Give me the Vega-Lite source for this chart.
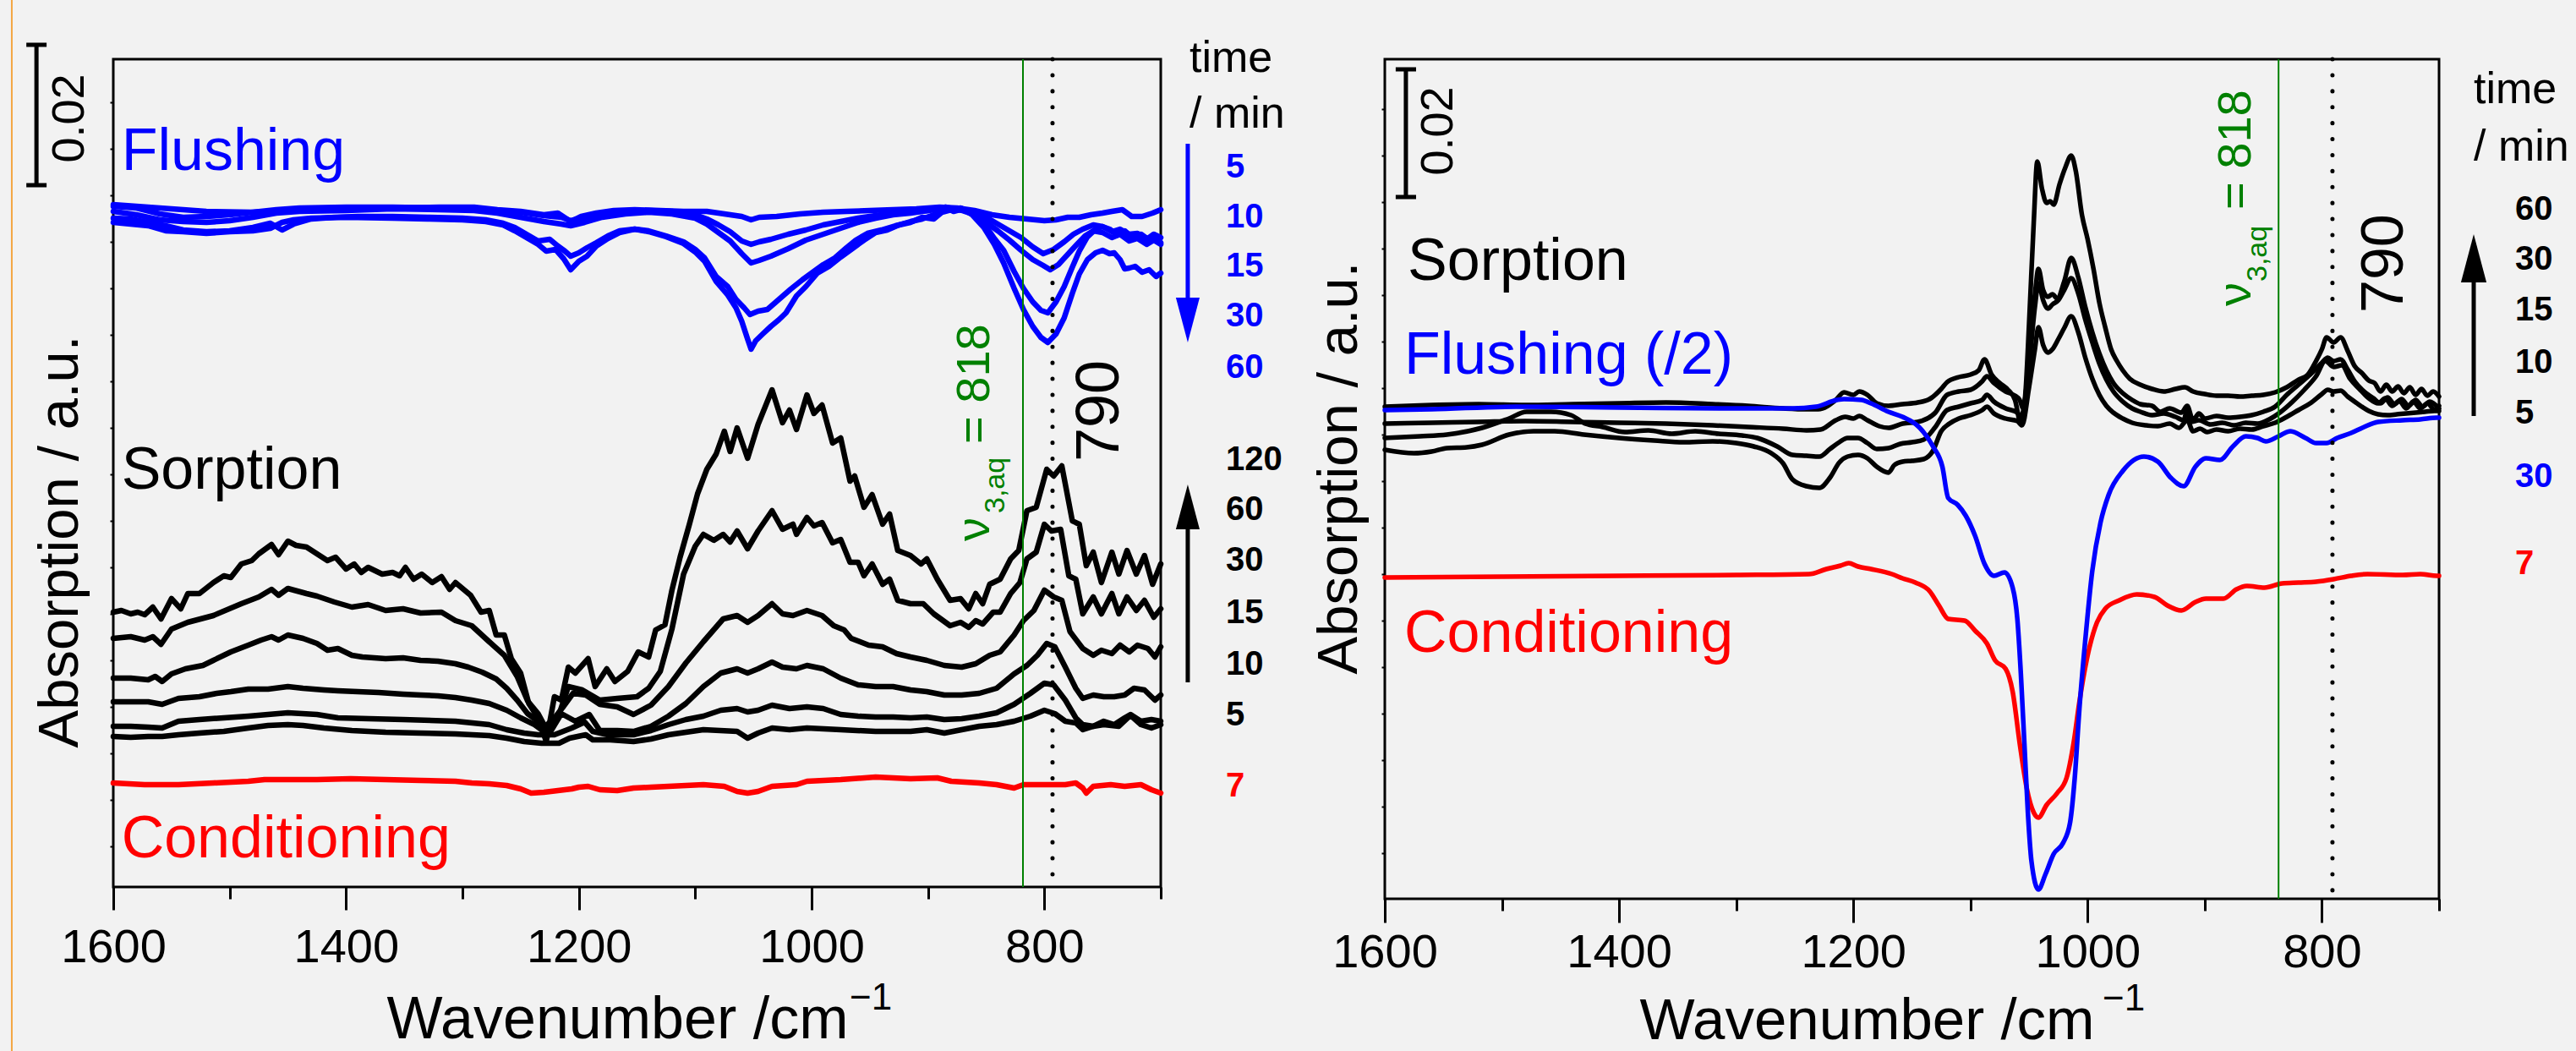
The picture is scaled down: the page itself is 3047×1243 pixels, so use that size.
{
"$schema": "https://vega.github.io/schema/vega-lite/v6.json",
"autosize": {"type": "none"},
"padding": {"left": 134, "top": 70, "right": 2913, "bottom": 1173},
"background": "#f2f2f2",
"spacing": 265,
"bounds": "flush",
"config": {
  "view": {"stroke": "#000000", "strokeWidth": 3},
  "axis": {"grid": false, "domain": false, "labelFont": "Liberation Sans", "titleFont": "Liberation Sans", "labelColor": "#000000", "titleColor": "#000000", "tickColor": "#000000", "titleFontWeight": "normal"},
  "text": {"font": "Liberation Sans"}
},
"datasets": {
"Lc": [
{"s":"a","x":1600,"y":32.5},{"s":"a","x":1593,"y":32.7},{"s":"a","x":1585,"y":32.3},{"s":"a","x":1579,"y":32.5},{"s":"a","x":1573,"y":32.2},{"s":"a","x":1566,"y":33.1},{"s":"a","x":1559,"y":31.7},{"s":"a","x":1550,"y":34.1},{"s":"a","x":1542,"y":32.9},{"s":"a","x":1536,"y":34.7},{"s":"a","x":1526,"y":34.7},{"s":"a","x":1514,"y":36.0},{"s":"a","x":1505,"y":36.8},{"s":"a","x":1499,"y":36.6},{"s":"a","x":1490,"y":38.2},{"s":"a","x":1481,"y":38.6},{"s":"a","x":1475,"y":39.4},{"s":"a","x":1464,"y":40.5},{"s":"a","x":1458,"y":39.3},{"s":"a","x":1450,"y":40.9},{"s":"a","x":1443,"y":40.4},{"s":"a","x":1434,"y":40.2},{"s":"a","x":1425,"y":39.4},{"s":"a","x":1416,"y":38.6},{"s":"a","x":1409,"y":39.0},{"s":"a","x":1400,"y":37.6},{"s":"a","x":1393,"y":38.2},{"s":"a","x":1387,"y":37.2},{"s":"a","x":1381,"y":37.8},{"s":"a","x":1369,"y":37.0},{"s":"a","x":1360,"y":37.2},{"s":"a","x":1354,"y":36.8},{"s":"a","x":1349,"y":37.8},{"s":"a","x":1342,"y":36.4},{"s":"a","x":1335,"y":37.0},{"s":"a","x":1326,"y":36.0},{"s":"a","x":1318,"y":36.7},{"s":"a","x":1311,"y":35.2},{"s":"a","x":1306,"y":36.0},{"s":"a","x":1293,"y":34.5},{"s":"a","x":1284,"y":32.5},{"s":"a","x":1277,"y":32.7},{"s":"a","x":1271,"y":29.8},{"s":"a","x":1264,"y":29.8},{"s":"a","x":1258,"y":27.0},{"s":"a","x":1250,"y":25.3},{"s":"a","x":1243,"y":21.7},{"s":"a","x":1235,"y":20.0},{"s":"a","x":1228,"y":17.2},{"s":"a","x":1221,"y":22.5},{"s":"a","x":1215,"y":22.1},{"s":"a","x":1209,"y":26.0},{"s":"a","x":1203,"y":25.3},{"s":"a","x":1192,"y":27.0},{"s":"a","x":1186,"y":23.7},{"s":"a","x":1176,"y":25.8},{"s":"a","x":1169,"y":24.3},{"s":"a","x":1158,"y":25.5},{"s":"a","x":1149,"y":27.8},{"s":"a","x":1140,"y":27.2},{"s":"a","x":1134,"y":30.4},{"s":"a","x":1126,"y":31.0},{"s":"a","x":1120,"y":35.1},{"s":"a","x":1113,"y":39.0},{"s":"a","x":1105,"y":42.9},{"s":"a","x":1098,"y":46.5},{"s":"a","x":1090,"y":49.4},{"s":"a","x":1082,"y":51.2},{"s":"a","x":1075,"y":53.9},{"s":"a","x":1070,"y":51.5},{"s":"a","x":1064,"y":54.3},{"s":"a","x":1055,"y":50.7},{"s":"a","x":1046,"y":54.7},{"s":"a","x":1034,"y":58.8},{"s":"a","x":1025,"y":54.9},{"s":"a","x":1019,"y":56.4},{"s":"a","x":1013,"y":54.1},{"s":"a","x":1004,"y":58.2},{"s":"a","x":998,"y":56.0},{"s":"a","x":991,"y":57.0},{"s":"a","x":982,"y":52.5},{"s":"a","x":975,"y":53.1},{"s":"a","x":967,"y":48.0},{"s":"a","x":963,"y":48.6},{"s":"a","x":955,"y":44.9},{"s":"a","x":948,"y":46.4},{"s":"a","x":939,"y":42.9},{"s":"a","x":933,"y":44.1},{"s":"a","x":926,"y":39.8},{"s":"a","x":915,"y":39.2},{"s":"a","x":906,"y":38.2},{"s":"a","x":901,"y":38.8},{"s":"a","x":892,"y":36.4},{"s":"a","x":881,"y":33.9},{"s":"a","x":872,"y":34.1},{"s":"a","x":865,"y":32.9},{"s":"a","x":859,"y":34.7},{"s":"a","x":853,"y":33.5},{"s":"a","x":847,"y":35.8},{"s":"a","x":838,"y":36.4},{"s":"a","x":829,"y":38.8},{"s":"a","x":822,"y":39.8},{"s":"a","x":815,"y":44.5},{"s":"a","x":807,"y":44.9},{"s":"a","x":798,"y":49.4},{"s":"a","x":792,"y":48.6},{"s":"a","x":785,"y":49.8},{"s":"a","x":776,"y":43.3},{"s":"a","x":770,"y":42.9},{"s":"a","x":764,"y":38.0},{"s":"a","x":758,"y":39.6},{"s":"a","x":751,"y":36.0},{"s":"a","x":742,"y":39.6},{"s":"a","x":736,"y":37.0},{"s":"a","x":729,"y":39.8},{"s":"a","x":721,"y":37.0},{"s":"a","x":714,"y":39.2},{"s":"a","x":707,"y":35.8},{"s":"a","x":700,"y":38.2},
{"s":"b","x":1600,"y":29.4},{"s":"b","x":1585,"y":29.6},{"s":"b","x":1573,"y":29.2},{"s":"b","x":1566,"y":29.6},{"s":"b","x":1559,"y":28.7},{"s":"b","x":1550,"y":30.5},{"s":"b","x":1536,"y":31.3},{"s":"b","x":1514,"y":32.1},{"s":"b","x":1490,"y":33.5},{"s":"b","x":1475,"y":34.3},{"s":"b","x":1464,"y":35.2},{"s":"b","x":1458,"y":34.5},{"s":"b","x":1450,"y":35.3},{"s":"b","x":1434,"y":34.7},{"s":"b","x":1425,"y":34.4},{"s":"b","x":1410,"y":33.7},{"s":"b","x":1395,"y":33.1},{"s":"b","x":1381,"y":33.4},{"s":"b","x":1366,"y":32.7},{"s":"b","x":1351,"y":32.9},{"s":"b","x":1336,"y":32.4},{"s":"b","x":1318,"y":32.5},{"s":"b","x":1306,"y":31.5},{"s":"b","x":1292,"y":30.9},{"s":"b","x":1277,"y":29.0},{"s":"b","x":1264,"y":27.4},{"s":"b","x":1253,"y":24.9},{"s":"b","x":1244,"y":22.0},{"s":"b","x":1235,"y":20.5},{"s":"b","x":1226,"y":18.2},{"s":"b","x":1218,"y":20.0},{"s":"b","x":1209,"y":23.7},{"s":"b","x":1197,"y":23.3},{"s":"b","x":1182,"y":22.1},{"s":"b","x":1167,"y":22.3},{"s":"b","x":1150,"y":22.5},{"s":"b","x":1140,"y":23.5},{"s":"b","x":1130,"y":25.5},{"s":"b","x":1120,"y":30.5},{"s":"b","x":1110,"y":37.0},{"s":"b","x":1100,"y":40.3},{"s":"b","x":1093,"y":41.7},{"s":"b","x":1084,"y":41.0},{"s":"b","x":1076,"y":41.7},{"s":"b","x":1070,"y":40.8},{"s":"b","x":1064,"y":42.1},{"s":"b","x":1055,"y":40.0},{"s":"b","x":1046,"y":42.1},{"s":"b","x":1034,"y":44.5},{"s":"b","x":1025,"y":42.3},{"s":"b","x":1016,"y":42.9},{"s":"b","x":1013,"y":41.7},{"s":"b","x":1004,"y":43.7},{"s":"b","x":998,"y":42.7},{"s":"b","x":991,"y":43.1},{"s":"b","x":982,"y":40.7},{"s":"b","x":975,"y":41.1},{"s":"b","x":967,"y":38.4},{"s":"b","x":960,"y":38.4},{"s":"b","x":955,"y":36.8},{"s":"b","x":948,"y":38.2},{"s":"b","x":939,"y":35.8},{"s":"b","x":933,"y":36.4},{"s":"b","x":926,"y":33.9},{"s":"b","x":915,"y":33.5},{"s":"b","x":904,"y":33.5},{"s":"b","x":895,"y":32.3},{"s":"b","x":881,"y":30.9},{"s":"b","x":872,"y":31.3},{"s":"b","x":865,"y":30.7},{"s":"b","x":859,"y":31.5},{"s":"b","x":853,"y":31.1},{"s":"b","x":844,"y":32.5},{"s":"b","x":838,"y":32.5},{"s":"b","x":829,"y":34.7},{"s":"b","x":821,"y":36.0},{"s":"b","x":815,"y":38.8},{"s":"b","x":807,"y":39.6},{"s":"b","x":800,"y":42.9},{"s":"b","x":794,"y":42.1},{"s":"b","x":786,"y":42.3},{"s":"b","x":779,"y":36.8},{"s":"b","x":773,"y":36.4},{"s":"b","x":767,"y":32.3},{"s":"b","x":758,"y":34.3},{"s":"b","x":751,"y":32.3},{"s":"b","x":742,"y":34.7},{"s":"b","x":736,"y":32.3},{"s":"b","x":729,"y":34.3},{"s":"b","x":721,"y":32.7},{"s":"b","x":714,"y":33.9},{"s":"b","x":706,"y":31.9},{"s":"b","x":700,"y":32.9},
{"s":"c","x":1600,"y":24.7},{"s":"c","x":1585,"y":24.7},{"s":"c","x":1570,"y":24.5},{"s":"c","x":1564,"y":24.9},{"s":"c","x":1558,"y":24.3},{"s":"c","x":1550,"y":25.2},{"s":"c","x":1538,"y":25.8},{"s":"c","x":1523,"y":26.2},{"s":"c","x":1514,"y":26.8},{"s":"c","x":1499,"y":27.8},{"s":"c","x":1484,"y":28.6},{"s":"c","x":1473,"y":29.2},{"s":"c","x":1464,"y":29.6},{"s":"c","x":1458,"y":29.2},{"s":"c","x":1450,"y":29.8},{"s":"c","x":1437,"y":29.4},{"s":"c","x":1425,"y":28.8},{"s":"c","x":1416,"y":28.0},{"s":"c","x":1407,"y":28.2},{"s":"c","x":1395,"y":27.4},{"s":"c","x":1386,"y":27.2},{"s":"c","x":1366,"y":27.0},{"s":"c","x":1351,"y":27.1},{"s":"c","x":1336,"y":26.8},{"s":"c","x":1321,"y":26.7},{"s":"c","x":1306,"y":26.4},{"s":"c","x":1295,"y":26.0},{"s":"c","x":1283,"y":25.4},{"s":"c","x":1271,"y":24.6},{"s":"c","x":1262,"y":23.5},{"s":"c","x":1253,"y":22.1},{"s":"c","x":1244,"y":20.5},{"s":"c","x":1235,"y":19.6},{"s":"c","x":1229,"y":19.0},{"s":"c","x":1222,"y":19.8},{"s":"c","x":1214,"y":21.2},{"s":"c","x":1205,"y":22.9},{"s":"c","x":1194,"y":22.7},{"s":"c","x":1182,"y":21.6},{"s":"c","x":1167,"y":21.3},{"s":"c","x":1153,"y":20.4},{"s":"c","x":1138,"y":21.5},{"s":"c","x":1123,"y":23.7},{"s":"c","x":1108,"y":26.5},{"s":"c","x":1093,"y":29.0},{"s":"c","x":1076,"y":31.7},{"s":"c","x":1064,"y":32.1},{"s":"c","x":1055,"y":31.3},{"s":"c","x":1046,"y":32.1},{"s":"c","x":1034,"y":33.5},{"s":"c","x":1025,"y":32.3},{"s":"c","x":1016,"y":32.1},{"s":"c","x":1004,"y":32.7},{"s":"c","x":991,"y":32.1},{"s":"c","x":981,"y":30.9},{"s":"c","x":972,"y":30.4},{"s":"c","x":966,"y":29.4},{"s":"c","x":951,"y":28.6},{"s":"c","x":939,"y":28.4},{"s":"c","x":927,"y":27.6},{"s":"c","x":915,"y":27.2},{"s":"c","x":901,"y":26.8},{"s":"c","x":886,"y":26.2},{"s":"c","x":871,"y":26.0},{"s":"c","x":859,"y":26.4},{"s":"c","x":847,"y":27.4},{"s":"c","x":838,"y":27.8},{"s":"c","x":826,"y":29.8},{"s":"c","x":818,"y":31.5},{"s":"c","x":809,"y":32.7},{"s":"c","x":800,"y":35.1},{"s":"c","x":792,"y":34.3},{"s":"c","x":785,"y":33.9},{"s":"c","x":778,"y":30.2},{"s":"c","x":767,"y":28.2},{"s":"c","x":758,"y":27.4},{"s":"c","x":751,"y":28.0},{"s":"c","x":742,"y":27.6},{"s":"c","x":735,"y":28.6},{"s":"c","x":727,"y":27.8},{"s":"c","x":720,"y":28.6},{"s":"c","x":711,"y":28.2},{"s":"c","x":705,"y":27.2},{"s":"c","x":700,"y":28.4},
{"s":"d","x":1600,"y":21.9},{"s":"d","x":1585,"y":21.9},{"s":"d","x":1570,"y":21.9},{"s":"d","x":1558,"y":21.6},{"s":"d","x":1544,"y":22.3},{"s":"d","x":1526,"y":22.5},{"s":"d","x":1511,"y":22.9},{"s":"d","x":1499,"y":23.1},{"s":"d","x":1484,"y":23.4},{"s":"d","x":1467,"y":23.4},{"s":"d","x":1450,"y":23.7},{"s":"d","x":1437,"y":23.5},{"s":"d","x":1419,"y":23.3},{"s":"d","x":1407,"y":23.2},{"s":"d","x":1390,"y":23.1},{"s":"d","x":1372,"y":23.0},{"s":"d","x":1351,"y":22.8},{"s":"d","x":1336,"y":22.7},{"s":"d","x":1321,"y":22.6},{"s":"d","x":1306,"y":22.4},{"s":"d","x":1292,"y":22.1},{"s":"d","x":1277,"y":21.7},{"s":"d","x":1262,"y":20.9},{"s":"d","x":1250,"y":20.0},{"s":"d","x":1238,"y":19.2},{"s":"d","x":1226,"y":18.0},{"s":"d","x":1215,"y":20.5},{"s":"d","x":1203,"y":19.6},{"s":"d","x":1191,"y":20.4},{"s":"d","x":1182,"y":18.5},{"s":"d","x":1167,"y":18.5},{"s":"d","x":1153,"y":18.4},{"s":"d","x":1138,"y":19.0},{"s":"d","x":1123,"y":20.2},{"s":"d","x":1108,"y":21.7},{"s":"d","x":1093,"y":23.7},{"s":"d","x":1078,"y":25.3},{"s":"d","x":1064,"y":25.8},{"s":"d","x":1055,"y":25.3},{"s":"d","x":1046,"y":25.8},{"s":"d","x":1034,"y":26.6},{"s":"d","x":1025,"y":26.0},{"s":"d","x":1013,"y":25.8},{"s":"d","x":1004,"y":26.2},{"s":"d","x":990,"y":25.8},{"s":"d","x":975,"y":24.7},{"s":"d","x":960,"y":23.9},{"s":"d","x":945,"y":23.7},{"s":"d","x":930,"y":23.7},{"s":"d","x":915,"y":23.3},{"s":"d","x":901,"y":23.1},{"s":"d","x":886,"y":22.7},{"s":"d","x":871,"y":22.7},{"s":"d","x":856,"y":22.9},{"s":"d","x":841,"y":23.5},{"s":"d","x":826,"y":25.2},{"s":"d","x":815,"y":26.2},{"s":"d","x":806,"y":27.4},{"s":"d","x":798,"y":28.8},{"s":"d","x":791,"y":28.4},{"s":"d","x":782,"y":26.0},{"s":"d","x":773,"y":23.5},{"s":"d","x":767,"y":22.3},{"s":"d","x":758,"y":22.7},{"s":"d","x":749,"y":22.5},{"s":"d","x":740,"y":22.5},{"s":"d","x":731,"y":22.7},{"s":"d","x":723,"y":23.5},{"s":"d","x":714,"y":23.3},{"s":"d","x":705,"y":22.1},{"s":"d","x":700,"y":22.7},
{"s":"e","x":1600,"y":19.0},{"s":"e","x":1585,"y":19.0},{"s":"e","x":1570,"y":18.9},{"s":"e","x":1558,"y":18.8},{"s":"e","x":1544,"y":19.6},{"s":"e","x":1526,"y":19.8},{"s":"e","x":1505,"y":20.0},{"s":"e","x":1484,"y":20.2},{"s":"e","x":1467,"y":20.4},{"s":"e","x":1450,"y":20.6},{"s":"e","x":1425,"y":20.4},{"s":"e","x":1407,"y":20.0},{"s":"e","x":1380,"y":19.9},{"s":"e","x":1351,"y":19.8},{"s":"e","x":1306,"y":19.6},{"s":"e","x":1277,"y":19.2},{"s":"e","x":1262,"y":18.6},{"s":"e","x":1247,"y":18.2},{"s":"e","x":1235,"y":18.0},{"s":"e","x":1221,"y":18.0},{"s":"e","x":1206,"y":18.8},{"s":"e","x":1195,"y":19.5},{"s":"e","x":1188,"y":18.4},{"s":"e","x":1175,"y":18.0},{"s":"e","x":1153,"y":18.0},{"s":"e","x":1138,"y":18.5},{"s":"e","x":1123,"y":19.2},{"s":"e","x":1108,"y":19.8},{"s":"e","x":1093,"y":20.2},{"s":"e","x":1078,"y":20.9},{"s":"e","x":1064,"y":21.1},{"s":"e","x":1055,"y":20.7},{"s":"e","x":1046,"y":20.9},{"s":"e","x":1034,"y":21.5},{"s":"e","x":1019,"y":21.1},{"s":"e","x":1004,"y":21.3},{"s":"e","x":990,"y":21.1},{"s":"e","x":975,"y":20.4},{"s":"e","x":960,"y":20.2},{"s":"e","x":945,"y":20.1},{"s":"e","x":930,"y":20.1},{"s":"e","x":915,"y":20.0},{"s":"e","x":901,"y":20.1},{"s":"e","x":886,"y":19.8},{"s":"e","x":871,"y":19.9},{"s":"e","x":856,"y":20.2},{"s":"e","x":841,"y":20.6},{"s":"e","x":826,"y":21.6},{"s":"e","x":812,"y":22.9},{"s":"e","x":800,"y":24.1},{"s":"e","x":792,"y":23.9},{"s":"e","x":782,"y":22.1},{"s":"e","x":773,"y":20.0},{"s":"e","x":767,"y":19.2},{"s":"e","x":758,"y":19.0},{"s":"e","x":749,"y":19.6},{"s":"e","x":740,"y":19.2},{"s":"e","x":731,"y":20.0},{"s":"e","x":726,"y":20.4},{"s":"e","x":717,"y":19.6},{"s":"e","x":708,"y":19.8},{"s":"e","x":700,"y":19.6},
{"s":"f","x":1600,"y":17.8},{"s":"f","x":1585,"y":17.7},{"s":"f","x":1570,"y":17.8},{"s":"f","x":1558,"y":17.8},{"s":"f","x":1544,"y":18.0},{"s":"f","x":1526,"y":18.2},{"s":"f","x":1505,"y":18.4},{"s":"f","x":1484,"y":18.8},{"s":"f","x":1467,"y":19.1},{"s":"f","x":1450,"y":19.2},{"s":"f","x":1437,"y":19.1},{"s":"f","x":1419,"y":18.8},{"s":"f","x":1395,"y":18.5},{"s":"f","x":1366,"y":18.3},{"s":"f","x":1336,"y":18.2},{"s":"f","x":1306,"y":18.1},{"s":"f","x":1277,"y":17.9},{"s":"f","x":1262,"y":17.6},{"s":"f","x":1247,"y":17.2},{"s":"f","x":1232,"y":17.0},{"s":"f","x":1217,"y":17.0},{"s":"f","x":1208,"y":17.6},{"s":"f","x":1194,"y":18.0},{"s":"f","x":1188,"y":17.4},{"s":"f","x":1173,"y":17.4},{"s":"f","x":1153,"y":17.2},{"s":"f","x":1138,"y":17.5},{"s":"f","x":1123,"y":18.0},{"s":"f","x":1093,"y":18.6},{"s":"f","x":1064,"y":18.4},{"s":"f","x":1055,"y":17.6},{"s":"f","x":1046,"y":18.2},{"s":"f","x":1034,"y":18.8},{"s":"f","x":1019,"y":18.6},{"s":"f","x":1004,"y":18.8},{"s":"f","x":975,"y":18.6},{"s":"f","x":945,"y":18.4},{"s":"f","x":915,"y":18.4},{"s":"f","x":901,"y":18.6},{"s":"f","x":886,"y":18.2},{"s":"f","x":871,"y":18.6},{"s":"f","x":856,"y":19.0},{"s":"f","x":841,"y":19.2},{"s":"f","x":826,"y":19.6},{"s":"f","x":812,"y":20.2},{"s":"f","x":800,"y":20.9},{"s":"f","x":791,"y":20.5},{"s":"f","x":782,"y":19.6},{"s":"f","x":773,"y":19.4},{"s":"f","x":767,"y":18.6},{"s":"f","x":758,"y":19.0},{"s":"f","x":749,"y":19.2},{"s":"f","x":736,"y":19.0},{"s":"f","x":726,"y":20.3},{"s":"f","x":717,"y":19.2},{"s":"f","x":708,"y":18.8},{"s":"f","x":700,"y":19.2},
{"s":"l","x":1600,"y":12.3},{"s":"l","x":1573,"y":12.1},{"s":"l","x":1544,"y":12.1},{"s":"l","x":1514,"y":12.3},{"s":"l","x":1484,"y":12.5},{"s":"l","x":1470,"y":12.7},{"s":"l","x":1425,"y":12.7},{"s":"l","x":1396,"y":12.8},{"s":"l","x":1366,"y":12.7},{"s":"l","x":1336,"y":12.6},{"s":"l","x":1306,"y":12.5},{"s":"l","x":1292,"y":12.3},{"s":"l","x":1277,"y":12.2},{"s":"l","x":1262,"y":12.0},{"s":"l","x":1250,"y":11.6},{"s":"l","x":1241,"y":11.1},{"s":"l","x":1230,"y":11.2},{"s":"l","x":1218,"y":11.4},{"s":"l","x":1206,"y":11.6},{"s":"l","x":1200,"y":11.8},{"s":"l","x":1192,"y":11.9},{"s":"l","x":1182,"y":11.5},{"s":"l","x":1167,"y":11.4},{"s":"l","x":1153,"y":11.7},{"s":"l","x":1138,"y":11.8},{"s":"l","x":1123,"y":11.9},{"s":"l","x":1093,"y":12.1},{"s":"l","x":1075,"y":11.9},{"s":"l","x":1064,"y":11.3},{"s":"l","x":1055,"y":11.1},{"s":"l","x":1046,"y":11.3},{"s":"l","x":1034,"y":11.9},{"s":"l","x":1013,"y":12.1},{"s":"l","x":1004,"y":12.5},{"s":"l","x":975,"y":12.7},{"s":"l","x":945,"y":13.0},{"s":"l","x":915,"y":12.8},{"s":"l","x":892,"y":12.9},{"s":"l","x":880,"y":12.5},{"s":"l","x":856,"y":12.3},{"s":"l","x":841,"y":12.1},{"s":"l","x":826,"y":11.7},{"s":"l","x":818,"y":12.1},{"s":"l","x":797,"y":12.1},{"s":"l","x":782,"y":12.1},{"s":"l","x":773,"y":12.3},{"s":"l","x":767,"y":11.7},{"s":"l","x":764,"y":11.1},{"s":"l","x":758,"y":11.9},{"s":"l","x":743,"y":12.1},{"s":"l","x":731,"y":11.9},{"s":"l","x":717,"y":12.1},{"s":"l","x":708,"y":11.5},{"s":"l","x":700,"y":11.1},
{"s":"g","x":1600,"y":80.7},{"s":"g","x":1560,"y":80.3},{"s":"g","x":1520,"y":79.9},{"s":"g","x":1480,"y":79.8},{"s":"g","x":1440,"y":80.1},{"s":"g","x":1400,"y":80.2},{"s":"g","x":1360,"y":80.3},{"s":"g","x":1320,"y":80.4},{"s":"g","x":1290,"y":80.4},{"s":"g","x":1270,"y":80.1},{"s":"g","x":1250,"y":79.9},{"s":"g","x":1230,"y":79.5},{"s":"g","x":1218,"y":79.7},{"s":"g","x":1207,"y":78.7},{"s":"g","x":1198,"y":79.3},{"s":"g","x":1185,"y":79.7},{"s":"g","x":1170,"y":80.0},{"s":"g","x":1152,"y":80.1},{"s":"g","x":1130,"y":80.0},{"s":"g","x":1110,"y":79.9},{"s":"g","x":1090,"y":79.9},{"s":"g","x":1070,"y":79.5},{"s":"g","x":1060,"y":79.3},{"s":"g","x":1052,"y":78.9},{"s":"g","x":1045,"y":79.2},{"s":"g","x":1030,"y":79.3},{"s":"g","x":1010,"y":79.6},{"s":"g","x":990,"y":79.8},{"s":"g","x":970,"y":79.9},{"s":"g","x":950,"y":80.0},{"s":"g","x":930,"y":80.1},{"s":"g","x":910,"y":80.2},{"s":"g","x":890,"y":80.4},{"s":"g","x":875,"y":80.3},{"s":"g","x":860,"y":80.0},{"s":"g","x":845,"y":79.5},{"s":"g","x":830,"y":79.2},{"s":"g","x":815,"y":79.0},{"s":"g","x":800,"y":78.8},{"s":"g","x":790,"y":78.9},{"s":"g","x":780,"y":79.2},{"s":"g","x":770,"y":79.2},{"s":"g","x":760,"y":79.5},{"s":"g","x":750,"y":79.7},{"s":"g","x":742,"y":79.9},{"s":"g","x":733,"y":80.1},{"s":"g","x":725,"y":79.3},{"s":"g","x":716,"y":79.3},{"s":"g","x":707,"y":79.7},{"s":"g","x":700,"y":80.1},
{"s":"h","x":1600,"y":80.5},{"s":"h","x":1580,"y":80.3},{"s":"h","x":1560,"y":79.6},{"s":"h","x":1540,"y":79.2},{"s":"h","x":1520,"y":79.3},{"s":"h","x":1500,"y":79.5},{"s":"h","x":1480,"y":79.8},{"s":"h","x":1460,"y":80.1},{"s":"h","x":1440,"y":80.3},{"s":"h","x":1400,"y":80.4},{"s":"h","x":1360,"y":80.4},{"s":"h","x":1320,"y":80.3},{"s":"h","x":1290,"y":80.2},{"s":"h","x":1270,"y":80.0},{"s":"h","x":1250,"y":79.8},{"s":"h","x":1230,"y":79.4},{"s":"h","x":1215,"y":79.2},{"s":"h","x":1207,"y":78.8},{"s":"h","x":1195,"y":79.2},{"s":"h","x":1180,"y":79.6},{"s":"h","x":1160,"y":79.9},{"s":"h","x":1140,"y":80.0},{"s":"h","x":1120,"y":79.9},{"s":"h","x":1100,"y":79.5},{"s":"h","x":1090,"y":79.0},{"s":"h","x":1080,"y":78.3},{"s":"h","x":1070,"y":77.5},{"s":"h","x":1060,"y":76.4},{"s":"h","x":1052,"y":76.0},{"s":"h","x":1045,"y":76.3},{"s":"h","x":1035,"y":76.6},{"s":"h","x":1020,"y":77.2},{"s":"h","x":1005,"y":77.7},{"s":"h","x":990,"y":78.3},{"s":"h","x":975,"y":78.7},{"s":"h","x":960,"y":79.1},{"s":"h","x":945,"y":79.4},{"s":"h","x":930,"y":79.7},{"s":"h","x":915,"y":79.8},{"s":"h","x":900,"y":80.0},{"s":"h","x":885,"y":80.4},{"s":"h","x":875,"y":80.1},{"s":"h","x":862,"y":79.9},{"s":"h","x":850,"y":79.2},{"s":"h","x":840,"y":78.4},{"s":"h","x":830,"y":77.6},{"s":"h","x":820,"y":76.8},{"s":"h","x":810,"y":75.7},{"s":"h","x":801,"y":74.9},{"s":"h","x":792,"y":75.4},{"s":"h","x":783,"y":76.3},{"s":"h","x":775,"y":77.2},{"s":"h","x":767,"y":77.8},{"s":"h","x":758,"y":78.3},{"s":"h","x":750,"y":78.1},{"s":"h","x":742,"y":77.5},{"s":"h","x":735,"y":77.8},{"s":"h","x":727,"y":77.2},{"s":"h","x":720,"y":77.3},{"s":"h","x":712,"y":76.6},{"s":"h","x":706,"y":77.2},{"s":"h","x":700,"y":76.8},
{"s":"i","x":1600,"y":79.9},{"s":"i","x":1580,"y":79.5},{"s":"i","x":1560,"y":78.9},{"s":"i","x":1540,"y":78.7},{"s":"i","x":1520,"y":78.6},{"s":"i","x":1500,"y":78.8},{"s":"i","x":1480,"y":79.2},{"s":"i","x":1460,"y":79.7},{"s":"i","x":1440,"y":79.9},{"s":"i","x":1400,"y":80.0},{"s":"i","x":1360,"y":80.2},{"s":"i","x":1320,"y":80.1},{"s":"i","x":1290,"y":80.0},{"s":"i","x":1270,"y":79.7},{"s":"i","x":1250,"y":79.2},{"s":"i","x":1230,"y":78.7},{"s":"i","x":1215,"y":78.4},{"s":"i","x":1207,"y":78.2},{"s":"i","x":1195,"y":78.6},{"s":"i","x":1180,"y":79.2},{"s":"i","x":1160,"y":79.6},{"s":"i","x":1140,"y":79.8},{"s":"i","x":1120,"y":79.6},{"s":"i","x":1100,"y":79.1},{"s":"i","x":1090,"y":78.4},{"s":"i","x":1080,"y":77.4},{"s":"i","x":1070,"y":76.4},{"s":"i","x":1060,"y":74.9},{"s":"i","x":1052,"y":73.8},{"s":"i","x":1045,"y":74.1},{"s":"i","x":1035,"y":74.6},{"s":"i","x":1020,"y":75.5},{"s":"i","x":1005,"y":76.5},{"s":"i","x":990,"y":77.2},{"s":"i","x":975,"y":77.9},{"s":"i","x":960,"y":78.6},{"s":"i","x":945,"y":79.1},{"s":"i","x":930,"y":79.5},{"s":"i","x":915,"y":79.7},{"s":"i","x":900,"y":80.0},{"s":"i","x":885,"y":80.3},{"s":"i","x":875,"y":80.2},{"s":"i","x":862,"y":79.6},{"s":"i","x":850,"y":78.6},{"s":"i","x":840,"y":77.6},{"s":"i","x":830,"y":76.5},{"s":"i","x":820,"y":75.3},{"s":"i","x":810,"y":74.2},{"s":"i","x":801,"y":73.5},{"s":"i","x":795,"y":73.0},{"s":"i","x":788,"y":73.6},{"s":"i","x":780,"y":74.8},{"s":"i","x":772,"y":76.0},{"s":"i","x":765,"y":77.0},{"s":"i","x":758,"y":77.6},{"s":"i","x":750,"y":77.4},{"s":"i","x":742,"y":76.8},{"s":"i","x":735,"y":77.2},{"s":"i","x":727,"y":76.4},{"s":"i","x":720,"y":76.7},{"s":"i","x":712,"y":76.0},{"s":"i","x":706,"y":76.5},{"s":"i","x":700,"y":76.0},
{"s":"j","x":1600,"y":79.1},{"s":"j","x":1585,"y":79.0},{"s":"j","x":1570,"y":78.6},{"s":"j","x":1555,"y":78.2},{"s":"j","x":1540,"y":77.7},{"s":"j","x":1520,"y":77.5},{"s":"j","x":1500,"y":77.6},{"s":"j","x":1480,"y":78.0},{"s":"j","x":1465,"y":78.5},{"s":"j","x":1455,"y":77.7},{"s":"j","x":1445,"y":78.4},{"s":"j","x":1430,"y":79.0},{"s":"j","x":1410,"y":79.2},{"s":"j","x":1390,"y":79.3},{"s":"j","x":1360,"y":79.3},{"s":"j","x":1330,"y":79.2},{"s":"j","x":1300,"y":79.1},{"s":"j","x":1280,"y":78.9},{"s":"j","x":1265,"y":78.5},{"s":"j","x":1255,"y":78.0},{"s":"j","x":1245,"y":77.2},{"s":"j","x":1235,"y":76.4},{"s":"j","x":1225,"y":76.6},{"s":"j","x":1218,"y":75.8},{"s":"j","x":1212,"y":75.2},{"s":"j","x":1207,"y":74.6},{"s":"j","x":1200,"y":75.0},{"s":"j","x":1193,"y":75.6},{"s":"j","x":1185,"y":76.2},{"s":"j","x":1175,"y":77.0},{"s":"j","x":1165,"y":77.6},{"s":"j","x":1152,"y":77.8},{"s":"j","x":1140,"y":77.6},{"s":"j","x":1125,"y":77.0},{"s":"j","x":1110,"y":76.3},{"s":"j","x":1100,"y":75.4},{"s":"j","x":1092,"y":74.4},{"s":"j","x":1082,"y":72.2},{"s":"j","x":1072,"y":71.0},{"s":"j","x":1065,"y":69.5},{"s":"j","x":1058,"y":68.5},{"s":"j","x":1053,"y":67.7},{"s":"j","x":1046,"y":68.1},{"s":"j","x":1038,"y":68.3},{"s":"j","x":1028,"y":69.5},{"s":"j","x":1018,"y":70.7},{"s":"j","x":1008,"y":71.8},{"s":"j","x":998,"y":72.8},{"s":"j","x":990,"y":73.6},{"s":"j","x":980,"y":74.4},{"s":"j","x":970,"y":75.6},{"s":"j","x":962,"y":76.5},{"s":"j","x":952,"y":77.3},{"s":"j","x":940,"y":77.7},{"s":"j","x":928,"y":78.2},{"s":"j","x":915,"y":78.6},{"s":"j","x":905,"y":79.2},{"s":"j","x":895,"y":79.0},{"s":"j","x":888,"y":79.8},{"s":"j","x":880,"y":80.1},{"s":"j","x":872,"y":80.3},{"s":"j","x":862,"y":79.7},{"s":"j","x":852,"y":78.5},{"s":"j","x":843,"y":76.7},{"s":"j","x":835,"y":75.3},{"s":"j","x":826,"y":72.8},{"s":"j","x":818,"y":70.8},{"s":"j","x":810,"y":69.2},{"s":"j","x":803,"y":68.2},{"s":"j","x":797,"y":67.9},{"s":"j","x":790,"y":69.2},{"s":"j","x":783,"y":71.0},{"s":"j","x":776,"y":73.3},{"s":"j","x":770,"y":75.2},{"s":"j","x":763,"y":76.9},{"s":"j","x":756,"y":77.8},{"s":"j","x":750,"y":78.1},{"s":"j","x":744,"y":77.8},{"s":"j","x":737,"y":77.1},{"s":"j","x":731,"y":77.6},{"s":"j","x":724,"y":76.7},{"s":"j","x":717,"y":77.2},{"s":"j","x":710,"y":76.5},{"s":"j","x":704,"y":76.9},{"s":"j","x":700,"y":76.2},
{"s":"k","x":1600,"y":78.6},{"s":"k","x":1585,"y":78.4},{"s":"k","x":1570,"y":78.2},{"s":"k","x":1555,"y":77.6},{"s":"k","x":1540,"y":77.5},{"s":"k","x":1520,"y":77.3},{"s":"k","x":1500,"y":77.5},{"s":"k","x":1480,"y":77.6},{"s":"k","x":1465,"y":77.9},{"s":"k","x":1455,"y":78.6},{"s":"k","x":1445,"y":78.9},{"s":"k","x":1430,"y":79.1},{"s":"k","x":1400,"y":79.2},{"s":"k","x":1360,"y":79.1},{"s":"k","x":1330,"y":79.0},{"s":"k","x":1300,"y":78.9},{"s":"k","x":1280,"y":78.7},{"s":"k","x":1265,"y":78.3},{"s":"k","x":1255,"y":77.6},{"s":"k","x":1245,"y":76.8},{"s":"k","x":1235,"y":76.0},{"s":"k","x":1228,"y":75.2},{"s":"k","x":1220,"y":75.4},{"s":"k","x":1213,"y":74.3},{"s":"k","x":1207,"y":73.0},{"s":"k","x":1200,"y":74.0},{"s":"k","x":1193,"y":74.6},{"s":"k","x":1185,"y":75.8},{"s":"k","x":1175,"y":76.7},{"s":"k","x":1165,"y":77.4},{"s":"k","x":1152,"y":77.8},{"s":"k","x":1140,"y":77.5},{"s":"k","x":1125,"y":76.9},{"s":"k","x":1110,"y":76.1},{"s":"k","x":1100,"y":75.1},{"s":"k","x":1092,"y":74.0},{"s":"k","x":1082,"y":71.6},{"s":"k","x":1072,"y":70.0},{"s":"k","x":1065,"y":68.5},{"s":"k","x":1060,"y":66.9},{"s":"k","x":1055,"y":64.8},{"s":"k","x":1052,"y":63.6},{"s":"k","x":1048,"y":64.6},{"s":"k","x":1042,"y":65.4},{"s":"k","x":1035,"y":66.3},{"s":"k","x":1028,"y":67.1},{"s":"k","x":1022,"y":67.9},{"s":"k","x":1013,"y":69.9},{"s":"k","x":1005,"y":71.0},{"s":"k","x":995,"y":72.6},{"s":"k","x":985,"y":73.4},{"s":"k","x":975,"y":74.5},{"s":"k","x":965,"y":75.5},{"s":"k","x":955,"y":76.5},{"s":"k","x":945,"y":77.4},{"s":"k","x":935,"y":77.7},{"s":"k","x":925,"y":78.3},{"s":"k","x":915,"y":78.7},{"s":"k","x":905,"y":79.0},{"s":"k","x":893,"y":79.6},{"s":"k","x":885,"y":80.4},{"s":"k","x":878,"y":79.9},{"s":"k","x":870,"y":80.2},{"s":"k","x":862,"y":79.5},{"s":"k","x":852,"y":78.0},{"s":"k","x":843,"y":76.0},{"s":"k","x":835,"y":73.8},{"s":"k","x":826,"y":70.8},{"s":"k","x":818,"y":68.3},{"s":"k","x":810,"y":66.3},{"s":"k","x":803,"y":65.0},{"s":"k","x":797,"y":64.4},{"s":"k","x":790,"y":65.4},{"s":"k","x":783,"y":67.3},{"s":"k","x":776,"y":70.2},{"s":"k","x":770,"y":72.5},{"s":"k","x":763,"y":74.2},{"s":"k","x":756,"y":75.0},{"s":"k","x":750,"y":75.3},{"s":"k","x":744,"y":74.9},{"s":"k","x":740,"y":75.0},{"s":"k","x":735,"y":74.2},{"s":"k","x":731,"y":73.1},{"s":"k","x":727,"y":73.2},{"s":"k","x":722,"y":73.4},{"s":"k","x":716,"y":72.7},{"s":"k","x":710,"y":73.0},{"s":"k","x":704,"y":72.2},{"s":"k","x":700,"y":72.6}
],
"Rc": [
{"s":"m","x":1600,"y":58.2},{"s":"m","x":1560,"y":58.4},{"s":"m","x":1520,"y":58.5},{"s":"m","x":1480,"y":58.4},{"s":"m","x":1440,"y":58.5},{"s":"m","x":1400,"y":58.6},{"s":"m","x":1360,"y":58.7},{"s":"m","x":1320,"y":58.5},{"s":"m","x":1290,"y":58.3},{"s":"m","x":1260,"y":58.0},{"s":"m","x":1240,"y":57.9},{"s":"m","x":1230,"y":57.9},{"s":"m","x":1215,"y":59.0},{"s":"m","x":1208,"y":59.9},{"s":"m","x":1200,"y":59.6},{"s":"m","x":1195,"y":60.0},{"s":"m","x":1188,"y":59.6},{"s":"m","x":1180,"y":58.6},{"s":"m","x":1170,"y":58.3},{"s":"m","x":1158,"y":58.5},{"s":"m","x":1145,"y":58.7},{"s":"m","x":1135,"y":59.1},{"s":"m","x":1125,"y":60.3},{"s":"m","x":1120,"y":61.1},{"s":"m","x":1110,"y":61.7},{"s":"m","x":1100,"y":62.0},{"s":"m","x":1093,"y":62.5},{"s":"m","x":1088,"y":63.8},{"s":"m","x":1082,"y":62.0},{"s":"m","x":1075,"y":61.0},{"s":"m","x":1068,"y":60.2},{"s":"m","x":1062,"y":59.0},{"s":"m","x":1057,"y":56.2},{"s":"m","x":1053,"y":60.0},{"s":"m","x":1050,"y":68.0},{"s":"m","x":1046,"y":80.0},{"s":"m","x":1043,"y":87.2},{"s":"m","x":1039,"y":84.0},{"s":"m","x":1035,"y":82.3},{"s":"m","x":1032,"y":82.5},{"s":"m","x":1029,"y":82.1},{"s":"m","x":1024,"y":84.5},{"s":"m","x":1019,"y":86.5},{"s":"m","x":1014,"y":87.9},{"s":"m","x":1010,"y":86.0},{"s":"m","x":1005,"y":81.0},{"s":"m","x":1000,"y":78.0},{"s":"m","x":995,"y":74.5},{"s":"m","x":990,"y":70.5},{"s":"m","x":985,"y":67.6},{"s":"m","x":980,"y":65.0},{"s":"m","x":975,"y":63.6},{"s":"m","x":970,"y":62.5},{"s":"m","x":964,"y":61.5},{"s":"m","x":955,"y":60.8},{"s":"m","x":945,"y":60.3},{"s":"m","x":935,"y":60.0},{"s":"m","x":925,"y":60.3},{"s":"m","x":917,"y":60.5},{"s":"m","x":910,"y":60.0},{"s":"m","x":900,"y":59.7},{"s":"m","x":890,"y":59.5},{"s":"m","x":880,"y":59.5},{"s":"m","x":870,"y":59.4},{"s":"m","x":860,"y":59.5},{"s":"m","x":850,"y":59.6},{"s":"m","x":840,"y":59.9},{"s":"m","x":830,"y":60.5},{"s":"m","x":820,"y":61.4},{"s":"m","x":812,"y":62.0},{"s":"m","x":805,"y":63.6},{"s":"m","x":800,"y":65.0},{"s":"m","x":796,"y":66.4},{"s":"m","x":790,"y":65.8},{"s":"m","x":784,"y":66.4},{"s":"m","x":778,"y":64.8},{"s":"m","x":772,"y":63.0},{"s":"m","x":766,"y":62.2},{"s":"m","x":760,"y":61.3},{"s":"m","x":755,"y":61.0},{"s":"m","x":750,"y":60.0},{"s":"m","x":745,"y":60.8},{"s":"m","x":740,"y":60.0},{"s":"m","x":735,"y":60.6},{"s":"m","x":730,"y":59.8},{"s":"m","x":725,"y":60.5},{"s":"m","x":720,"y":59.6},{"s":"m","x":715,"y":60.3},{"s":"m","x":710,"y":59.5},{"s":"m","x":705,"y":60.0},{"s":"m","x":700,"y":59.4},
{"s":"n","x":1600,"y":56.2},{"s":"n","x":1560,"y":56.3},{"s":"n","x":1520,"y":56.4},{"s":"n","x":1480,"y":56.5},{"s":"n","x":1440,"y":56.4},{"s":"n","x":1400,"y":56.3},{"s":"n","x":1360,"y":56.2},{"s":"n","x":1320,"y":56.0},{"s":"n","x":1290,"y":55.8},{"s":"n","x":1260,"y":55.6},{"s":"n","x":1240,"y":55.4},{"s":"n","x":1228,"y":55.5},{"s":"n","x":1215,"y":56.6},{"s":"n","x":1207,"y":57.0},{"s":"n","x":1200,"y":56.8},{"s":"n","x":1195,"y":57.1},{"s":"n","x":1188,"y":56.6},{"s":"n","x":1178,"y":55.9},{"s":"n","x":1170,"y":55.7},{"s":"n","x":1158,"y":56.2},{"s":"n","x":1145,"y":56.4},{"s":"n","x":1130,"y":57.5},{"s":"n","x":1120,"y":59.6},{"s":"n","x":1110,"y":60.0},{"s":"n","x":1100,"y":60.2},{"s":"n","x":1090,"y":61.2},{"s":"n","x":1086,"y":61.8},{"s":"n","x":1080,"y":61.0},{"s":"n","x":1070,"y":60.0},{"s":"n","x":1062,"y":59.5},{"s":"n","x":1058,"y":59.0},{"s":"n","x":1055,"y":58.0},{"s":"n","x":1050,"y":64.0},{"s":"n","x":1045,"y":71.5},{"s":"n","x":1042,"y":74.5},{"s":"n","x":1038,"y":72.0},{"s":"n","x":1034,"y":71.2},{"s":"n","x":1030,"y":71.5},{"s":"n","x":1026,"y":71.0},{"s":"n","x":1020,"y":73.0},{"s":"n","x":1014,"y":75.8},{"s":"n","x":1008,"y":73.5},{"s":"n","x":1002,"y":70.0},{"s":"n","x":996,"y":67.0},{"s":"n","x":990,"y":64.5},{"s":"n","x":984,"y":62.5},{"s":"n","x":978,"y":61.0},{"s":"n","x":970,"y":59.8},{"s":"n","x":962,"y":59.0},{"s":"n","x":955,"y":58.5},{"s":"n","x":945,"y":58.3},{"s":"n","x":938,"y":57.6},{"s":"n","x":930,"y":58.0},{"s":"n","x":920,"y":57.5},{"s":"n","x":915,"y":58.3},{"s":"n","x":910,"y":56.6},{"s":"n","x":905,"y":57.4},{"s":"n","x":900,"y":56.8},{"s":"n","x":890,"y":57.1},{"s":"n","x":880,"y":56.9},{"s":"n","x":870,"y":57.0},{"s":"n","x":860,"y":57.2},{"s":"n","x":850,"y":57.6},{"s":"n","x":840,"y":58.2},{"s":"n","x":830,"y":59.6},{"s":"n","x":820,"y":60.8},{"s":"n","x":810,"y":62.0},{"s":"n","x":800,"y":63.4},{"s":"n","x":795,"y":64.0},{"s":"n","x":790,"y":63.6},{"s":"n","x":784,"y":63.8},{"s":"n","x":778,"y":62.6},{"s":"n","x":772,"y":61.2},{"s":"n","x":764,"y":60.0},{"s":"n","x":756,"y":59.2},{"s":"n","x":750,"y":58.6},{"s":"n","x":744,"y":59.3},{"s":"n","x":738,"y":58.5},{"s":"n","x":732,"y":59.1},{"s":"n","x":726,"y":58.3},{"s":"n","x":720,"y":59.0},{"s":"n","x":714,"y":58.2},{"s":"n","x":708,"y":58.8},{"s":"n","x":700,"y":58.0},
{"s":"o","x":1600,"y":54.5},{"s":"o","x":1570,"y":54.7},{"s":"o","x":1547,"y":54.9},{"s":"o","x":1517,"y":55.7},{"s":"o","x":1494,"y":56.8},{"s":"o","x":1479,"y":57.6},{"s":"o","x":1458,"y":57.6},{"s":"o","x":1441,"y":57.2},{"s":"o","x":1429,"y":56.2},{"s":"o","x":1414,"y":55.8},{"s":"o","x":1395,"y":55.2},{"s":"o","x":1375,"y":55.4},{"s":"o","x":1355,"y":55.0},{"s":"o","x":1335,"y":55.3},{"s":"o","x":1315,"y":55.0},{"s":"o","x":1295,"y":54.8},{"s":"o","x":1282,"y":54.5},{"s":"o","x":1265,"y":53.5},{"s":"o","x":1252,"y":52.5},{"s":"o","x":1240,"y":52.4},{"s":"o","x":1229,"y":52.3},{"s":"o","x":1220,"y":53.2},{"s":"o","x":1212,"y":54.0},{"s":"o","x":1205,"y":54.5},{"s":"o","x":1196,"y":54.5},{"s":"o","x":1188,"y":53.9},{"s":"o","x":1180,"y":53.2},{"s":"o","x":1170,"y":53.3},{"s":"o","x":1160,"y":53.8},{"s":"o","x":1150,"y":54.0},{"s":"o","x":1140,"y":54.3},{"s":"o","x":1130,"y":55.8},{"s":"o","x":1120,"y":57.8},{"s":"o","x":1110,"y":58.2},{"s":"o","x":1100,"y":58.6},{"s":"o","x":1090,"y":59.0},{"s":"o","x":1086,"y":59.6},{"s":"o","x":1080,"y":58.8},{"s":"o","x":1070,"y":58.0},{"s":"o","x":1060,"y":57.5},{"s":"o","x":1057,"y":57.0},{"s":"o","x":1050,"y":63.0},{"s":"o","x":1045,"y":70.0},{"s":"o","x":1042,"y":72.8},{"s":"o","x":1038,"y":70.8},{"s":"o","x":1034,"y":69.8},{"s":"o","x":1030,"y":70.3},{"s":"o","x":1025,"y":70.8},{"s":"o","x":1020,"y":72.0},{"s":"o","x":1014,"y":73.4},{"s":"o","x":1008,"y":71.6},{"s":"o","x":1002,"y":68.5},{"s":"o","x":996,"y":65.8},{"s":"o","x":990,"y":63.3},{"s":"o","x":984,"y":61.4},{"s":"o","x":978,"y":60.0},{"s":"o","x":970,"y":58.8},{"s":"o","x":962,"y":58.0},{"s":"o","x":955,"y":57.6},{"s":"o","x":945,"y":57.2},{"s":"o","x":935,"y":57.4},{"s":"o","x":925,"y":57.0},{"s":"o","x":918,"y":56.6},{"s":"o","x":915,"y":57.9},{"s":"o","x":912,"y":56.4},{"s":"o","x":905,"y":56.6},{"s":"o","x":895,"y":56.1},{"s":"o","x":885,"y":56.3},{"s":"o","x":875,"y":56.0},{"s":"o","x":865,"y":56.3},{"s":"o","x":855,"y":56.2},{"s":"o","x":845,"y":56.7},{"s":"o","x":835,"y":57.6},{"s":"o","x":825,"y":58.8},{"s":"o","x":815,"y":60.2},{"s":"o","x":805,"y":61.8},{"s":"o","x":797,"y":63.6},{"s":"o","x":790,"y":62.9},{"s":"o","x":783,"y":63.1},{"s":"o","x":776,"y":61.5},{"s":"o","x":768,"y":60.3},{"s":"o","x":760,"y":59.2},{"s":"o","x":752,"y":58.6},{"s":"o","x":746,"y":59.2},{"s":"o","x":740,"y":58.3},{"s":"o","x":734,"y":58.9},{"s":"o","x":728,"y":58.0},{"s":"o","x":722,"y":58.8},{"s":"o","x":716,"y":58.0},{"s":"o","x":710,"y":58.6},{"s":"o","x":704,"y":57.9},{"s":"o","x":700,"y":58.3},
{"s":"p","x":1600,"y":53.1},{"s":"p","x":1575,"y":52.7},{"s":"p","x":1560,"y":52.9},{"s":"p","x":1547,"y":53.3},{"s":"p","x":1530,"y":53.4},{"s":"p","x":1517,"y":53.7},{"s":"p","x":1494,"y":54.9},{"s":"p","x":1473,"y":55.3},{"s":"p","x":1455,"y":55.3},{"s":"p","x":1430,"y":54.9},{"s":"p","x":1400,"y":54.5},{"s":"p","x":1370,"y":54.2},{"s":"p","x":1345,"y":54.0},{"s":"p","x":1320,"y":54.1},{"s":"p","x":1300,"y":53.9},{"s":"p","x":1285,"y":53.5},{"s":"p","x":1270,"y":52.7},{"s":"p","x":1260,"y":51.5},{"s":"p","x":1252,"y":49.6},{"s":"p","x":1240,"y":48.8},{"s":"p","x":1229,"y":48.6},{"s":"p","x":1220,"y":49.8},{"s":"p","x":1212,"y":51.6},{"s":"p","x":1205,"y":52.3},{"s":"p","x":1196,"y":52.5},{"s":"p","x":1188,"y":52.1},{"s":"p","x":1180,"y":51.1},{"s":"p","x":1170,"y":50.4},{"s":"p","x":1165,"y":51.3},{"s":"p","x":1158,"y":51.7},{"s":"p","x":1150,"y":51.8},{"s":"p","x":1140,"y":52.0},{"s":"p","x":1132,"y":53.0},{"s":"p","x":1125,"y":55.3},{"s":"p","x":1118,"y":56.2},{"s":"p","x":1110,"y":56.8},{"s":"p","x":1100,"y":57.2},{"s":"p","x":1090,"y":57.8},{"s":"p","x":1086,"y":58.2},{"s":"p","x":1080,"y":57.4},{"s":"p","x":1070,"y":56.8},{"s":"p","x":1060,"y":56.5},{"s":"p","x":1056,"y":56.0},{"s":"p","x":1050,"y":60.5},{"s":"p","x":1045,"y":65.0},{"s":"p","x":1042,"y":67.6},{"s":"p","x":1038,"y":65.5},{"s":"p","x":1034,"y":64.6},{"s":"p","x":1030,"y":65.0},{"s":"p","x":1025,"y":66.2},{"s":"p","x":1020,"y":67.5},{"s":"p","x":1014,"y":68.9},{"s":"p","x":1008,"y":67.0},{"s":"p","x":1002,"y":64.0},{"s":"p","x":996,"y":61.5},{"s":"p","x":990,"y":59.6},{"s":"p","x":984,"y":58.3},{"s":"p","x":978,"y":57.5},{"s":"p","x":970,"y":56.8},{"s":"p","x":962,"y":56.3},{"s":"p","x":950,"y":56.0},{"s":"p","x":940,"y":55.9},{"s":"p","x":930,"y":56.2},{"s":"p","x":922,"y":55.7},{"s":"p","x":915,"y":56.6},{"s":"p","x":910,"y":55.3},{"s":"p","x":904,"y":55.6},{"s":"p","x":898,"y":55.2},{"s":"p","x":890,"y":55.5},{"s":"p","x":880,"y":55.3},{"s":"p","x":870,"y":55.6},{"s":"p","x":860,"y":55.5},{"s":"p","x":850,"y":55.9},{"s":"p","x":840,"y":56.3},{"s":"p","x":830,"y":57.0},{"s":"p","x":820,"y":57.8},{"s":"p","x":810,"y":58.6},{"s":"p","x":800,"y":59.7},{"s":"p","x":795,"y":60.2},{"s":"p","x":790,"y":60.0},{"s":"p","x":784,"y":60.1},{"s":"p","x":778,"y":59.4},{"s":"p","x":770,"y":58.6},{"s":"p","x":760,"y":57.7},{"s":"p","x":752,"y":57.3},{"s":"p","x":744,"y":57.2},{"s":"p","x":736,"y":57.3},{"s":"p","x":728,"y":57.4},{"s":"p","x":720,"y":57.5},{"s":"p","x":712,"y":57.6},{"s":"p","x":704,"y":57.7},{"s":"p","x":700,"y":57.7},
{"s":"r","x":1600,"y":38.0},{"s":"r","x":1500,"y":38.1},{"s":"r","x":1400,"y":38.2},{"s":"r","x":1300,"y":38.3},{"s":"r","x":1238,"y":38.4},{"s":"r","x":1223,"y":39.0},{"s":"r","x":1211,"y":39.4},{"s":"r","x":1204,"y":39.7},{"s":"r","x":1196,"y":39.3},{"s":"r","x":1185,"y":39.0},{"s":"r","x":1167,"y":38.4},{"s":"r","x":1158,"y":37.9},{"s":"r","x":1147,"y":37.4},{"s":"r","x":1135,"y":36.4},{"s":"r","x":1127,"y":34.7},{"s":"r","x":1119,"y":33.1},{"s":"r","x":1105,"y":32.9},{"s":"r","x":1096,"y":31.7},{"s":"r","x":1086,"y":30.2},{"s":"r","x":1079,"y":28.2},{"s":"r","x":1070,"y":27.2},{"s":"r","x":1064,"y":24.5},{"s":"r","x":1058,"y":18.4},{"s":"r","x":1052,"y":13.1},{"s":"r","x":1046,"y":10.2},{"s":"r","x":1042,"y":9.6},{"s":"r","x":1035,"y":11.1},{"s":"r","x":1026,"y":12.5},{"s":"r","x":1018,"y":14.3},{"s":"r","x":1012,"y":18.4},{"s":"r","x":1007,"y":23.3},{"s":"r","x":999,"y":29.4},{"s":"r","x":992,"y":32.7},{"s":"r","x":985,"y":34.3},{"s":"r","x":973,"y":35.3},{"s":"r","x":958,"y":36.0},{"s":"r","x":943,"y":35.7},{"s":"r","x":932,"y":34.7},{"s":"r","x":920,"y":34.1},{"s":"r","x":908,"y":35.1},{"s":"r","x":899,"y":35.5},{"s":"r","x":884,"y":35.5},{"s":"r","x":873,"y":36.6},{"s":"r","x":864,"y":37.0},{"s":"r","x":849,"y":36.8},{"s":"r","x":834,"y":37.3},{"s":"r","x":820,"y":37.4},{"s":"r","x":805,"y":37.5},{"s":"r","x":790,"y":37.8},{"s":"r","x":775,"y":38.2},{"s":"r","x":761,"y":38.4},{"s":"r","x":731,"y":38.3},{"s":"r","x":716,"y":38.4},{"s":"r","x":702,"y":38.2},{"s":"r","x":700,"y":38.2},
{"s":"q","x":1600,"y":57.8},{"s":"q","x":1560,"y":57.9},{"s":"q","x":1488,"y":58.2},{"s":"q","x":1400,"y":58.1},{"s":"q","x":1300,"y":58.0},{"s":"q","x":1252,"y":58.0},{"s":"q","x":1232,"y":58.2},{"s":"q","x":1214,"y":59.0},{"s":"q","x":1208,"y":59.1},{"s":"q","x":1193,"y":59.0},{"s":"q","x":1185,"y":58.6},{"s":"q","x":1170,"y":57.6},{"s":"q","x":1158,"y":57.0},{"s":"q","x":1144,"y":55.8},{"s":"q","x":1132,"y":53.5},{"s":"q","x":1124,"y":51.1},{"s":"q","x":1119,"y":47.4},{"s":"q","x":1111,"y":46.6},{"s":"q","x":1104,"y":45.3},{"s":"q","x":1096,"y":42.9},{"s":"q","x":1088,"y":39.6},{"s":"q","x":1080,"y":38.2},{"s":"q","x":1071,"y":38.6},{"s":"q","x":1064,"y":36.8},{"s":"q","x":1060,"y":33.1},{"s":"q","x":1057,"y":26.6},{"s":"q","x":1054,"y":18.4},{"s":"q","x":1051,"y":10.2},{"s":"q","x":1048,"y":4.5},{"s":"q","x":1042,"y":1.1},{"s":"q","x":1036,"y":2.9},{"s":"q","x":1029,"y":5.3},{"s":"q","x":1021,"y":6.6},{"s":"q","x":1015,"y":9.0},{"s":"q","x":1011,"y":14.3},{"s":"q","x":1007,"y":22.5},{"s":"q","x":1002,"y":30.6},{"s":"q","x":996,"y":38.8},{"s":"q","x":989,"y":44.5},{"s":"q","x":982,"y":47.8},{"s":"q","x":970,"y":50.6},{"s":"q","x":952,"y":52.3},{"s":"q","x":940,"y":51.7},{"s":"q","x":929,"y":49.8},{"s":"q","x":918,"y":48.8},{"s":"q","x":908,"y":51.1},{"s":"q","x":899,"y":52.1},{"s":"q","x":887,"y":51.9},{"s":"q","x":876,"y":53.5},{"s":"q","x":865,"y":54.7},{"s":"q","x":855,"y":54.5},{"s":"q","x":848,"y":54.1},{"s":"q","x":837,"y":54.7},{"s":"q","x":827,"y":55.3},{"s":"q","x":814,"y":54.5},{"s":"q","x":805,"y":53.9},{"s":"q","x":796,"y":53.9},{"s":"q","x":787,"y":54.5},{"s":"q","x":775,"y":55.1},{"s":"q","x":764,"y":55.8},{"s":"q","x":752,"y":56.4},{"s":"q","x":731,"y":56.6},{"s":"q","x":716,"y":56.7},{"s":"q","x":702,"y":56.9},{"s":"q","x":700,"y":56.9}
]
},
"hconcat": [
{
"width": 1239, "height": 979,
"resolve": {"scale": {"color": "independent"}},
"layer": [
{"data": {"name": "Lc"}, "mark": {"type": "line", "strokeWidth": 6.5, "strokeJoin": "round", "strokeCap": "round"},
 "encoding": {
  "x": {"field": "x", "type": "quantitative", "scale": {"domain": [700, 1600], "reverse": true, "nice": false, "zero": false},
    "axis": {"values": [1600, 1500, 1400, 1300, 1200, 1100, 1000, 900, 800, 700], "format": "d", "labelExpr": "datum.value % 200 === 0 ? datum.label : ''", "labelFontSize": 56, "labelPadding": 17, "labelFlush": false, "labelOverlap": false, "labelBound": false,
      "tickSize": {"condition": {"test": "datum.value % 200 === 0", "value": 27}, "value": 14}, "tickWidth": 3,
      "title": "Wavenumber /cm", "titleFontSize": 70, "titleX": 596, "titleY": 178, "titleAlign": "center", "titleBaseline": "alphabetic"}},
  "y": {"field": "y", "type": "quantitative", "scale": {"domain": [0, 97.9], "nice": false, "zero": false},
    "axis": {"values": [92.8, 87.3, 81.8, 76.3, 70.8, 65.3, 59.8, 54.3, 48.8, 43.3, 37.8, 32.3, 26.8, 21.3, 15.8, 10.3, 4.8], "labels": false, "tickSize": 4, "tickWidth": 2,
      "title": "Absorption / a.u.", "titleFontSize": 67, "titleAngle": -90, "titleX": -43, "titleY": 570, "titleAlign": "center", "titleBaseline": "alphabetic"}},
  "color": {"field": "s", "type": "nominal", "legend": null, "scale": {"domain": ["a","b","c","d","e","f","l","g","h","i","j","k"], "range": ["#000000","#000000","#000000","#000000","#000000","#000000","#ff0000","#0000ff","#0000ff","#0000ff","#0000ff","#0000ff"]}}
 }},
{"data": {"values": [{"x": 1687.2, "y": -19.4, "y2": 104.9}]}, "mark": {"type": "rule", "color": "#f4a641", "strokeWidth": 2},
 "encoding": {"x": {"field": "x", "type": "quantitative", "scale": {"domain": [700, 1600], "reverse": true, "nice": false, "zero": false}}, "y": {"field": "y", "type": "quantitative", "scale": {"domain": [0, 97.9], "nice": false, "zero": false}}, "y2": {"field": "y2"}}},
{"data": {"values": [{"x": 818.4}]}, "mark": {"type": "rule", "color": "#008000", "strokeWidth": 2},
 "encoding": {"x": {"field": "x", "type": "quantitative", "scale": {"domain": [700, 1600], "reverse": true, "nice": false, "zero": false}}}},
{"data": {"values": [{"x": 793}]}, "mark": {"type": "rule", "color": "#000000", "strokeWidth": 5, "strokeDash": [0.1, 18.8], "strokeCap": "round"},
 "encoding": {"x": {"field": "x", "type": "quantitative", "scale": {"domain": [700, 1600], "reverse": true, "nice": false, "zero": false}}}},
{"data": {"values": [{"x": 1666, "y": 83.0, "y2": 99.6}]}, "mark": {"type": "rule", "color": "#000000", "strokeWidth": 5},
 "encoding": {"x": {"field": "x", "type": "quantitative", "scale": {"domain": [700, 1600], "reverse": true, "nice": false, "zero": false}}, "y": {"field": "y", "type": "quantitative", "scale": {"domain": [0, 97.9], "nice": false, "zero": false}}, "y2": {"field": "y2"}}},
{"data": {"values": [{"x": 1674.7, "x2": 1657.3, "y": 99.6}, {"x": 1674.7, "x2": 1657.3, "y": 83.0}]}, "mark": {"type": "rule", "color": "#000000", "strokeWidth": 5},
 "encoding": {"x": {"field": "x", "type": "quantitative", "scale": {"domain": [700, 1600], "reverse": true, "nice": false, "zero": false}}, "x2": {"field": "x2"}, "y": {"field": "y", "type": "quantitative", "scale": {"domain": [0, 97.9], "nice": false, "zero": false}}}},
{"data": {"values": [{"t": "0.02", "x": 1637, "y": 90.9}]}, "mark": {"type": "text", "fontSize": 54, "angle": -90, "align": "center", "baseline": "middle", "color": "#000000"},
 "encoding": {"x": {"field": "x", "type": "quantitative", "scale": {"domain": [700, 1600], "reverse": true, "nice": false, "zero": false}}, "y": {"field": "y", "type": "quantitative", "scale": {"domain": [0, 97.9], "nice": false, "zero": false}}, "text": {"field": "t"}}},
{"data": {"values": [{"t": "Flushing", "x": 1593, "y": 84.8, "g": "flush"}, {"t": "Sorption", "x": 1593, "y": 47.1, "g": "sorp"}, {"t": "Conditioning", "x": 1593, "y": 3.5, "g": "cond"}]},
 "mark": {"type": "text", "fontSize": 70, "align": "left", "baseline": "alphabetic"},
 "encoding": {"x": {"field": "x", "type": "quantitative", "scale": {"domain": [700, 1600], "reverse": true, "nice": false, "zero": false}}, "y": {"field": "y", "type": "quantitative", "scale": {"domain": [0, 97.9], "nice": false, "zero": false}}, "text": {"field": "t"},
  "color": {"field": "g", "type": "nominal", "legend": null, "scale": {"domain": ["flush", "sorp", "cond"], "range": ["#0000ff", "#000000", "#ff0000"]}}}},
{"data": {"values": [{"t": "ν", "x": 847.5, "y": 40.9}, {"t": "= 818", "x": 847.5, "y": 52.4}]}, "mark": {"type": "text", "fontSize": 56, "angle": -90, "align": "left", "baseline": "alphabetic", "color": "#008000"},
 "encoding": {"x": {"field": "x", "type": "quantitative", "scale": {"domain": [700, 1600], "reverse": true, "nice": false, "zero": false}}, "y": {"field": "y", "type": "quantitative", "scale": {"domain": [0, 97.9], "nice": false, "zero": false}}, "text": {"field": "t"}}},
{"data": {"values": [{"t": "3,aq", "x": 834.4, "y": 44.2}]}, "mark": {"type": "text", "fontSize": 34, "angle": -90, "align": "left", "baseline": "alphabetic", "color": "#008000"},
 "encoding": {"x": {"field": "x", "type": "quantitative", "scale": {"domain": [700, 1600], "reverse": true, "nice": false, "zero": false}}, "y": {"field": "y", "type": "quantitative", "scale": {"domain": [0, 97.9], "nice": false, "zero": false}}, "text": {"field": "t"}}},
{"data": {"values": [{"t": "790", "x": 736.3, "y": 50.3}]}, "mark": {"type": "text", "fontSize": 72, "angle": -90, "align": "left", "baseline": "alphabetic", "color": "#000000"},
 "encoding": {"x": {"field": "x", "type": "quantitative", "scale": {"domain": [700, 1600], "reverse": true, "nice": false, "zero": false}}, "y": {"field": "y", "type": "quantitative", "scale": {"domain": [0, 97.9], "nice": false, "zero": false}}, "text": {"field": "t"}}},
{"data": {"values": [{"t": "time", "x": 675.3, "y": 96.4}, {"t": "/ min", "x": 675.3, "y": 89.8}]}, "mark": {"type": "text", "fontSize": 52, "align": "left", "baseline": "alphabetic", "color": "#000000"},
 "encoding": {"x": {"field": "x", "type": "quantitative", "scale": {"domain": [700, 1600], "reverse": true, "nice": false, "zero": false}}, "y": {"field": "y", "type": "quantitative", "scale": {"domain": [0, 97.9], "nice": false, "zero": false}}, "text": {"field": "t"}}},
{"data": {"values": [{"t": "5", "x": 644.1, "y": 85.1, "g": "flush"}, {"t": "10", "x": 644.1, "y": 79.2, "g": "flush"}, {"t": "15", "x": 644.1, "y": 73.4, "g": "flush"}, {"t": "30", "x": 644.1, "y": 67.5, "g": "flush"}, {"t": "60", "x": 644.1, "y": 61.4, "g": "flush"}, {"t": "120", "x": 644.1, "y": 50.5, "g": "sorp"}, {"t": "60", "x": 644.1, "y": 44.6, "g": "sorp"}, {"t": "30", "x": 644.1, "y": 38.6, "g": "sorp"}, {"t": "15", "x": 644.1, "y": 32.4, "g": "sorp"}, {"t": "10", "x": 644.1, "y": 26.3, "g": "sorp"}, {"t": "5", "x": 644.1, "y": 20.3, "g": "sorp"}, {"t": "7", "x": 644.1, "y": 11.9, "g": "cond"}]},
 "mark": {"type": "text", "fontSize": 40, "fontWeight": "bold", "align": "left", "baseline": "middle"},
 "encoding": {"x": {"field": "x", "type": "quantitative", "scale": {"domain": [700, 1600], "reverse": true, "nice": false, "zero": false}}, "y": {"field": "y", "type": "quantitative", "scale": {"domain": [0, 97.9], "nice": false, "zero": false}}, "text": {"field": "t"},
  "color": {"field": "g", "type": "nominal", "legend": null, "scale": {"domain": ["flush", "sorp", "cond"], "range": ["#0000ff", "#000000", "#ff0000"]}}}},
{"data": {"values": [{"x": 676.8, "y": 87.9, "y2": 68.5, "g": "flush"}, {"x": 676.8, "y": 24.2, "y2": 43.5, "g": "sorp"}]}, "mark": {"type": "rule", "strokeWidth": 5},
 "encoding": {"x": {"field": "x", "type": "quantitative", "scale": {"domain": [700, 1600], "reverse": true, "nice": false, "zero": false}}, "y": {"field": "y", "type": "quantitative", "scale": {"domain": [0, 97.9], "nice": false, "zero": false}}, "y2": {"field": "y2"},
  "color": {"field": "g", "type": "nominal", "legend": null, "scale": {"domain": ["flush", "sorp"], "range": ["#0000ff", "#000000"]}}}},
{"data": {"values": [{"x": 676.8, "y": 67.05, "d": "down", "g": "flush"}, {"x": 676.8, "y": 44.95, "d": "up", "g": "sorp"}]}, "mark": {"type": "point", "filled": true, "opacity": 1, "size": 2809, "strokeWidth": 0},
 "encoding": {"x": {"field": "x", "type": "quantitative", "scale": {"domain": [700, 1600], "reverse": true, "nice": false, "zero": false}}, "y": {"field": "y", "type": "quantitative", "scale": {"domain": [0, 97.9], "nice": false, "zero": false}},
  "shape": {"field": "d", "type": "nominal", "legend": null, "scale": {"domain": ["down", "up"], "range": ["M-0.53,-1L0.53,-1L0,1Z", "M-0.53,1L0.53,1L0,-1Z"]}},
  "color": {"field": "g", "type": "nominal", "legend": null, "scale": {"domain": ["flush", "sorp"], "range": ["#0000ff", "#000000"]}}}},
{"data": {"values": [{"t": "−1", "x": 967.3, "y": -14.5}]}, "mark": {"type": "text", "fontSize": 44, "align": "left", "baseline": "alphabetic", "color": "#000000"},
 "encoding": {"x": {"field": "x", "type": "quantitative", "scale": {"domain": [700, 1600], "reverse": true, "nice": false, "zero": false}}, "y": {"field": "y", "type": "quantitative", "scale": {"domain": [0, 97.9], "nice": false, "zero": false}}, "text": {"field": "t"}}}
]
},
{
"width": 1247, "height": 993,
"resolve": {"scale": {"color": "independent"}},
"layer": [
{"data": {"name": "Rc"}, "mark": {"type": "line", "strokeWidth": 5.5, "strokeJoin": "round", "strokeCap": "round", "interpolate": "monotone"},
 "encoding": {
  "x": {"field": "x", "type": "quantitative", "scale": {"domain": [700, 1600], "reverse": true, "nice": false, "zero": false},
    "axis": {"values": [1600, 1500, 1400, 1300, 1200, 1100, 1000, 900, 800, 700], "format": "d", "labelExpr": "datum.value % 200 === 0 ? datum.label : ''", "labelFontSize": 56, "labelPadding": 8, "labelFlush": false, "labelOverlap": false, "labelBound": false,
      "tickSize": {"condition": {"test": "datum.value % 200 === 0", "value": 28}, "value": 14}, "tickWidth": 3,
      "title": "Wavenumber /cm", "titleFontSize": 69, "titleX": 570, "titleY": 165, "titleAlign": "center", "titleBaseline": "alphabetic"}},
  "y": {"field": "y", "type": "quantitative", "scale": {"domain": [0, 99.3], "nice": false, "zero": false},
    "axis": {"values": [93.4, 87.9, 82.4, 76.9, 71.4, 65.9, 60.4, 54.9, 49.4, 43.9, 38.4, 32.9, 27.4, 21.9, 16.4, 10.9, 5.4], "labels": false, "tickSize": 4, "tickWidth": 2,
      "title": "Absorption / a.u.", "titleFontSize": 67, "titleAngle": -90, "titleX": -34, "titleY": 483, "titleAlign": "center", "titleBaseline": "alphabetic"}},
  "color": {"field": "s", "type": "nominal", "legend": null, "scale": {"domain": ["m","n","o","p","r","q"], "range": ["#000000","#000000","#000000","#000000","#ff0000","#0000ff"]}}
 }},
{"data": {"values": [{"x": 837}]}, "mark": {"type": "rule", "color": "#008000", "strokeWidth": 2},
 "encoding": {"x": {"field": "x", "type": "quantitative", "scale": {"domain": [700, 1600], "reverse": true, "nice": false, "zero": false}}}},
{"data": {"values": [{"x": 791}]}, "mark": {"type": "rule", "color": "#000000", "strokeWidth": 5, "strokeDash": [0.1, 18.8], "strokeCap": "round"},
 "encoding": {"x": {"field": "x", "type": "quantitative", "scale": {"domain": [700, 1600], "reverse": true, "nice": false, "zero": false}}}},
{"data": {"values": [{"x": 1582, "y": 83.0, "y2": 98.1}]}, "mark": {"type": "rule", "color": "#000000", "strokeWidth": 5},
 "encoding": {"x": {"field": "x", "type": "quantitative", "scale": {"domain": [700, 1600], "reverse": true, "nice": false, "zero": false}}, "y": {"field": "y", "type": "quantitative", "scale": {"domain": [0, 99.3], "nice": false, "zero": false}}, "y2": {"field": "y2"}}},
{"data": {"values": [{"x": 1590.7, "x2": 1573.3, "y": 98.1}, {"x": 1590.7, "x2": 1573.3, "y": 83.0}]}, "mark": {"type": "rule", "color": "#000000", "strokeWidth": 5},
 "encoding": {"x": {"field": "x", "type": "quantitative", "scale": {"domain": [700, 1600], "reverse": true, "nice": false, "zero": false}}, "x2": {"field": "x2"}, "y": {"field": "y", "type": "quantitative", "scale": {"domain": [0, 99.3], "nice": false, "zero": false}}}},
{"data": {"values": [{"t": "0.02", "x": 1553.8, "y": 90.8}]}, "mark": {"type": "text", "fontSize": 54, "angle": -90, "align": "center", "baseline": "middle", "color": "#000000"},
 "encoding": {"x": {"field": "x", "type": "quantitative", "scale": {"domain": [700, 1600], "reverse": true, "nice": false, "zero": false}}, "y": {"field": "y", "type": "quantitative", "scale": {"domain": [0, 99.3], "nice": false, "zero": false}}, "text": {"field": "t"}}},
{"data": {"values": [{"t": "Sorption", "x": 1580.5, "y": 73.2, "g": "sorp"}, {"t": "Flushing (/2)", "x": 1583.4, "y": 62.1, "g": "flush"}, {"t": "Conditioning", "x": 1583.4, "y": 29.2, "g": "cond"}]},
 "mark": {"type": "text", "fontSize": 70, "align": "left", "baseline": "alphabetic"},
 "encoding": {"x": {"field": "x", "type": "quantitative", "scale": {"domain": [700, 1600], "reverse": true, "nice": false, "zero": false}}, "y": {"field": "y", "type": "quantitative", "scale": {"domain": [0, 99.3], "nice": false, "zero": false}}, "text": {"field": "t"},
  "color": {"field": "g", "type": "nominal", "legend": null, "scale": {"domain": ["flush", "sorp", "cond"], "range": ["#0000ff", "#000000", "#ff0000"]}}}},
{"data": {"values": [{"t": "ν", "x": 861, "y": 70.1}, {"t": "= 818", "x": 861, "y": 81.5}]}, "mark": {"type": "text", "fontSize": 56, "angle": -90, "align": "left", "baseline": "alphabetic", "color": "#008000"},
 "encoding": {"x": {"field": "x", "type": "quantitative", "scale": {"domain": [700, 1600], "reverse": true, "nice": false, "zero": false}}, "y": {"field": "y", "type": "quantitative", "scale": {"domain": [0, 99.3], "nice": false, "zero": false}}, "text": {"field": "t"}}},
{"data": {"values": [{"t": "3,aq", "x": 847.3, "y": 73.0}]}, "mark": {"type": "text", "fontSize": 34, "angle": -90, "align": "left", "baseline": "alphabetic", "color": "#008000"},
 "encoding": {"x": {"field": "x", "type": "quantitative", "scale": {"domain": [700, 1600], "reverse": true, "nice": false, "zero": false}}, "y": {"field": "y", "type": "quantitative", "scale": {"domain": [0, 99.3], "nice": false, "zero": false}}, "text": {"field": "t"}}},
{"data": {"values": [{"t": "790", "x": 731, "y": 69.3}]}, "mark": {"type": "text", "fontSize": 70, "angle": -90, "align": "left", "baseline": "alphabetic", "color": "#000000"},
 "encoding": {"x": {"field": "x", "type": "quantitative", "scale": {"domain": [700, 1600], "reverse": true, "nice": false, "zero": false}}, "y": {"field": "y", "type": "quantitative", "scale": {"domain": [0, 99.3], "nice": false, "zero": false}}, "text": {"field": "t"}}},
{"data": {"values": [{"t": "time", "x": 670.4, "y": 94.1}, {"t": "/ min", "x": 670.4, "y": 87.3}]}, "mark": {"type": "text", "fontSize": 52, "align": "left", "baseline": "alphabetic", "color": "#000000"},
 "encoding": {"x": {"field": "x", "type": "quantitative", "scale": {"domain": [700, 1600], "reverse": true, "nice": false, "zero": false}}, "y": {"field": "y", "type": "quantitative", "scale": {"domain": [0, 99.3], "nice": false, "zero": false}}, "text": {"field": "t"}}},
{"data": {"values": [{"t": "60", "x": 635.1, "y": 81.5, "g": "sorp"}, {"t": "30", "x": 635.1, "y": 75.6, "g": "sorp"}, {"t": "15", "x": 635.1, "y": 69.6, "g": "sorp"}, {"t": "10", "x": 635.1, "y": 63.4, "g": "sorp"}, {"t": "5", "x": 635.1, "y": 57.4, "g": "sorp"}, {"t": "30", "x": 635.1, "y": 49.9, "g": "flush"}, {"t": "7", "x": 635.1, "y": 39.6, "g": "cond"}]},
 "mark": {"type": "text", "fontSize": 40, "fontWeight": "bold", "align": "left", "baseline": "middle"},
 "encoding": {"x": {"field": "x", "type": "quantitative", "scale": {"domain": [700, 1600], "reverse": true, "nice": false, "zero": false}}, "y": {"field": "y", "type": "quantitative", "scale": {"domain": [0, 99.3], "nice": false, "zero": false}}, "text": {"field": "t"},
  "color": {"field": "g", "type": "nominal", "legend": null, "scale": {"domain": ["flush", "sorp", "cond"], "range": ["#0000ff", "#000000", "#ff0000"]}}}},
{"data": {"values": [{"x": 670.4, "y": 57.1, "y2": 74.5}]}, "mark": {"type": "rule", "strokeWidth": 5, "color": "#000000"},
 "encoding": {"x": {"field": "x", "type": "quantitative", "scale": {"domain": [700, 1600], "reverse": true, "nice": false, "zero": false}}, "y": {"field": "y", "type": "quantitative", "scale": {"domain": [0, 99.3], "nice": false, "zero": false}}, "y2": {"field": "y2"}}},
{"data": {"values": [{"x": 670.4, "y": 75.75, "d": "up"}]}, "mark": {"type": "point", "filled": true, "opacity": 1, "size": 3249, "strokeWidth": 0, "color": "#000000"},
 "encoding": {"x": {"field": "x", "type": "quantitative", "scale": {"domain": [700, 1600], "reverse": true, "nice": false, "zero": false}}, "y": {"field": "y", "type": "quantitative", "scale": {"domain": [0, 99.3], "nice": false, "zero": false}},
  "shape": {"field": "d", "type": "nominal", "legend": null, "scale": {"domain": ["down", "up"], "range": ["M-0.54,-1L0.54,-1L0,1Z", "M-0.54,1L0.54,1L0,-1Z"]}}}},
{"data": {"values": [{"t": "−1", "x": 987.3, "y": -13.2}]}, "mark": {"type": "text", "fontSize": 44, "align": "left", "baseline": "alphabetic", "color": "#000000"},
 "encoding": {"x": {"field": "x", "type": "quantitative", "scale": {"domain": [700, 1600], "reverse": true, "nice": false, "zero": false}}, "y": {"field": "y", "type": "quantitative", "scale": {"domain": [0, 99.3], "nice": false, "zero": false}}, "text": {"field": "t"}}}
]
}
]
}
